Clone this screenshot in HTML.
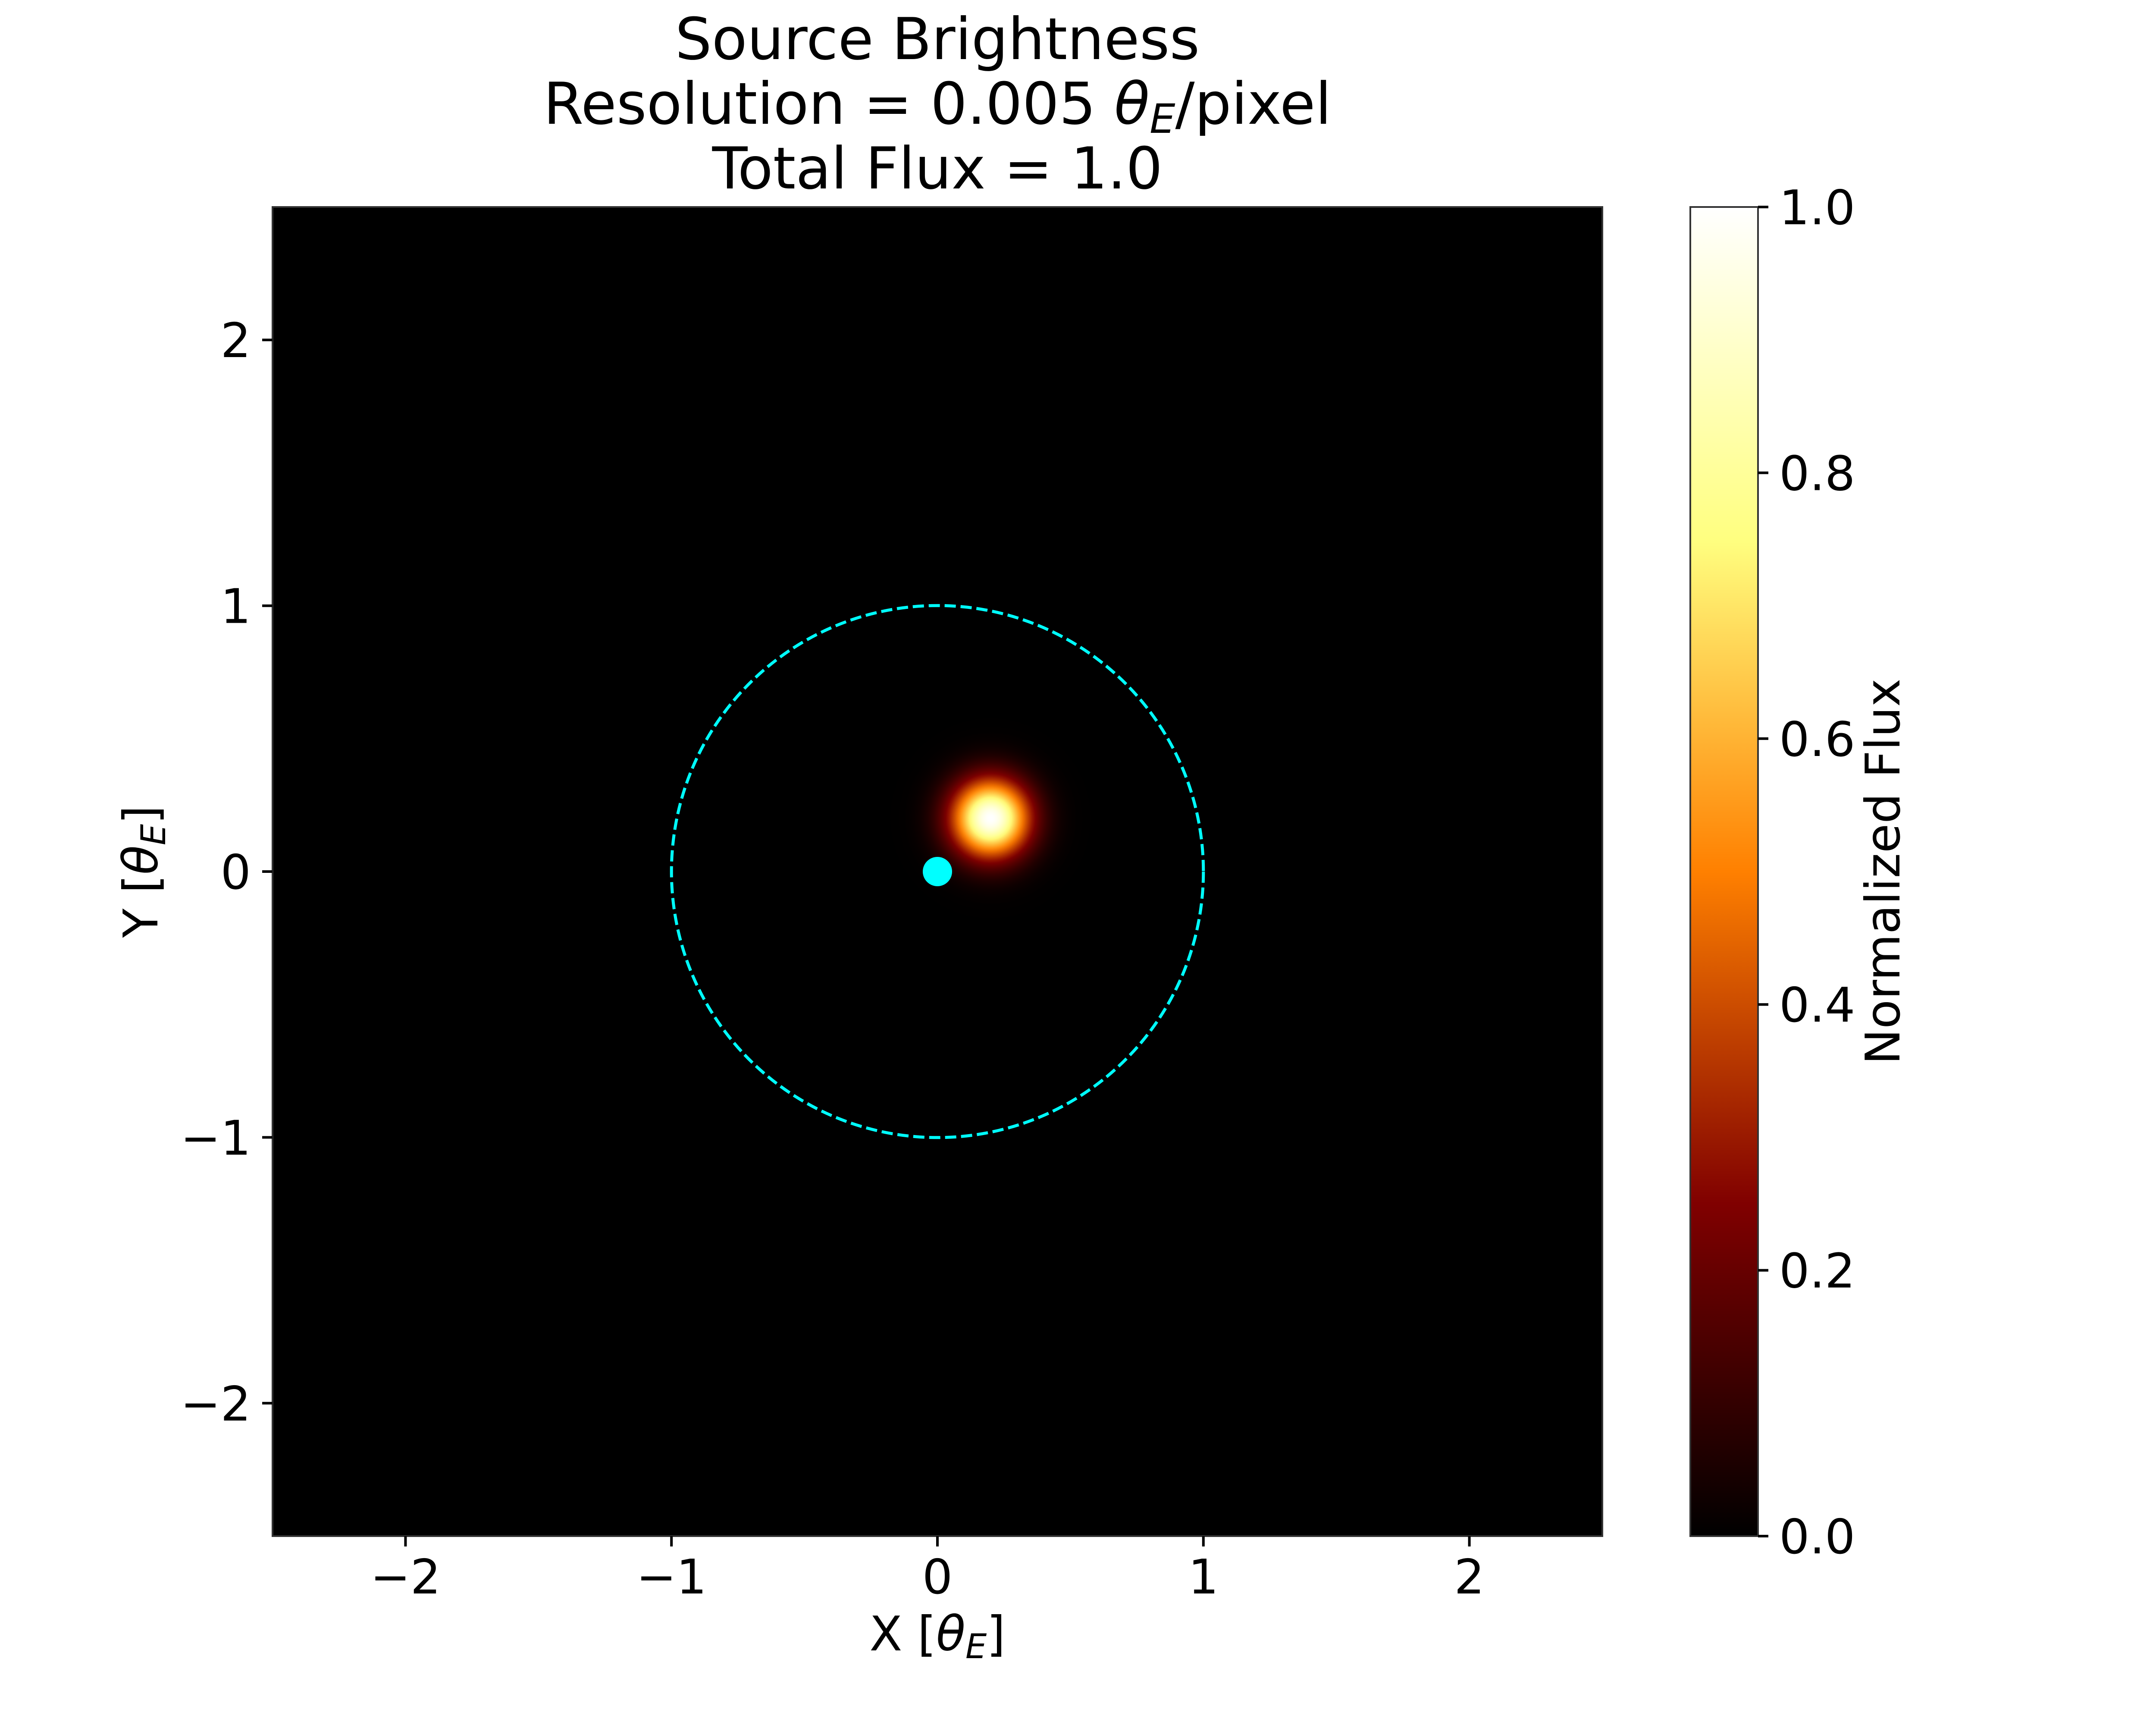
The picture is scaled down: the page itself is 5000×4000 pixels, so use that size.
<!DOCTYPE html>
<html><head><meta charset="utf-8"><style>
html,body{margin:0;padding:0;background:#fff}
svg{display:block}
text{font-family:"DejaVu Sans","Liberation Sans",sans-serif;fill:#000}
</style></head><body>
<svg id="chart" xmlns="http://www.w3.org/2000/svg" width="5000" height="4000" viewBox="0 0 5000 4000">
<defs>
<linearGradient id="cbgrad" x1="0" y1="1" x2="0" y2="0">
<stop offset="0" stop-color="#000000"/>
<stop offset="0.25" stop-color="#800000"/>
<stop offset="0.5" stop-color="#ff8000"/>
<stop offset="0.75" stop-color="#ffff80"/>
<stop offset="1" stop-color="#ffffff"/>
</linearGradient>
<radialGradient id="srcgrad" cx="0.5" cy="0.5" r="0.5"></radialGradient>
</defs>
<rect width="5000" height="4000" fill="#fff"/>
<text x="2174" y="137" font-size="134" text-anchor="middle">Source Brightness</text>
<text x="2174" y="287" font-size="134" text-anchor="middle">Resolution = 0.005 <tspan font-style="italic">θ</tspan><tspan font-style="italic" font-size="94" dy="21">E</tspan><tspan dy="-21">/pixel</tspan></text>
<text x="2174" y="437" font-size="134" text-anchor="middle">Total Flux = 1.0</text>
<g id="plot"></g>
<text x="2174" y="3827" font-size="111" text-anchor="middle">X [<tspan font-style="italic">θ</tspan><tspan font-style="italic" font-size="78" dy="18">E</tspan><tspan dy="-18">]</tspan></text>
<text transform="translate(365,2021) rotate(-90)" font-size="111" text-anchor="middle">Y [<tspan font-style="italic">θ</tspan><tspan font-style="italic" font-size="78" dy="18">E</tspan><tspan dy="-18">]</tspan></text>
<text transform="translate(4405,2021) rotate(-90)" font-size="111" text-anchor="middle">Normalized Flux</text>
</svg>
<script>
const xTicks = [-2, -1, 0, 1, 2];
const yTicks = [-2, -1, 0, 1, 2];
const cbTicks = [0.0, 0.2, 0.4, 0.6, 0.8, 1.0];
const xLimits = [-2.5, 2.5];
const yLimits = [-2.5, 2.5];
const sourceCenter = [0.2, 0.2];
const sourceSigma = [0.1];
const lensPosition = [0, 0];
const einsteinRadius = [1.0];

const NS = "http://www.w3.org/2000/svg";
const L = 632, R = 3716, T = 480, B = 3562;
const CBL = 3920, CBR = 4077;
const sx = v => L + (v - xLimits[0]) / (xLimits[1] - xLimits[0]) * (R - L);
const sy = v => B - (v - yLimits[0]) / (yLimits[1] - yLimits[0]) * (B - T);
const scb = v => B - v * (B - T);
const unit = (R - L) / (xLimits[1] - xLimits[0]);
const plot = document.getElementById('plot');
function mk(tag, attrs, parent) {
  const e = document.createElementNS(NS, tag);
  for (const k in attrs) e.setAttribute(k, attrs[k]);
  (parent || plot).appendChild(e);
  return e;
}
function fmtMinus(v) { return (v < 0 ? '\u2212' : '') + Math.abs(v); }
function afmhot(v) {
  const c = x => Math.round(255 * Math.max(0, Math.min(1, x)));
  return 'rgb(' + c(2 * v) + ',' + c(2 * v - 0.5) + ',' + c(2 * v - 1) + ')';
}

const bg = mk('rect', {x: L, y: T, width: R - L, height: B - T, fill: '#000'});



const grad = document.getElementById('srcgrad');
const span = 4.5;
for (let i = 0; i <= 40; i++) {
  const t = i / 40;
  const r = t * span;
  const v = Math.exp(-r * r / 2);
  mk('stop', {offset: t, 'stop-color': afmhot(v)}, grad);
}
const src = mk('circle', {cx: sx(sourceCenter[0]), cy: sy(sourceCenter[1]), r: span * sourceSigma[0] * unit, fill: 'url(#srcgrad)'});



const ring = mk('circle', {cx: sx(lensPosition[0]), cy: sy(lensPosition[1]), r: einsteinRadius[0] * unit, fill: 'none', stroke: '#00ffff', 'stroke-width': 7, 'stroke-dasharray': '26 11'});



const lens = mk('circle', {cx: sx(lensPosition[0]), cy: sy(lensPosition[1]), r: 34, fill: '#00ffff'});



const frame = mk('rect', {x: L, y: T, width: R - L, height: B - T, fill: 'none', stroke: '#333', 'stroke-width': 4});



xTicks.forEach(v => {
  const x = sx(v);
  const tk = mk('line', {x1: x, y1: B, x2: x, y2: B + 24, stroke: '#000', 'stroke-width': 6});
  
  
  const lb = mk('text', {x: x, y: 3695, 'font-size': 111, 'text-anchor': 'middle'});
  lb.textContent = fmtMinus(v);
  
  
});
yTicks.forEach(v => {
  const y = sy(v);
  const tk = mk('line', {x1: L - 24, y1: y, x2: L, y2: y, stroke: '#000', 'stroke-width': 6});
  
  
  const lb = mk('text', {x: 582, y: y + 40, 'font-size': 111, 'text-anchor': 'end'});
  lb.textContent = fmtMinus(v);
  
  
});

const cb = mk('rect', {x: CBL, y: T, width: CBR - CBL, height: B - T, fill: 'url(#cbgrad)', stroke: '#333', 'stroke-width': 4});


cbTicks.forEach(v => {
  const y = scb(v);
  const tk = mk('line', {x1: CBR, y1: y, x2: CBR + 24, y2: y, stroke: '#000', 'stroke-width': 6});
  
  
  const lb = mk('text', {x: 4126, y: y + 40, 'font-size': 111, 'text-anchor': 'start'});
  lb.textContent = v.toFixed(1);
  
  
});
</script>
</body></html>
